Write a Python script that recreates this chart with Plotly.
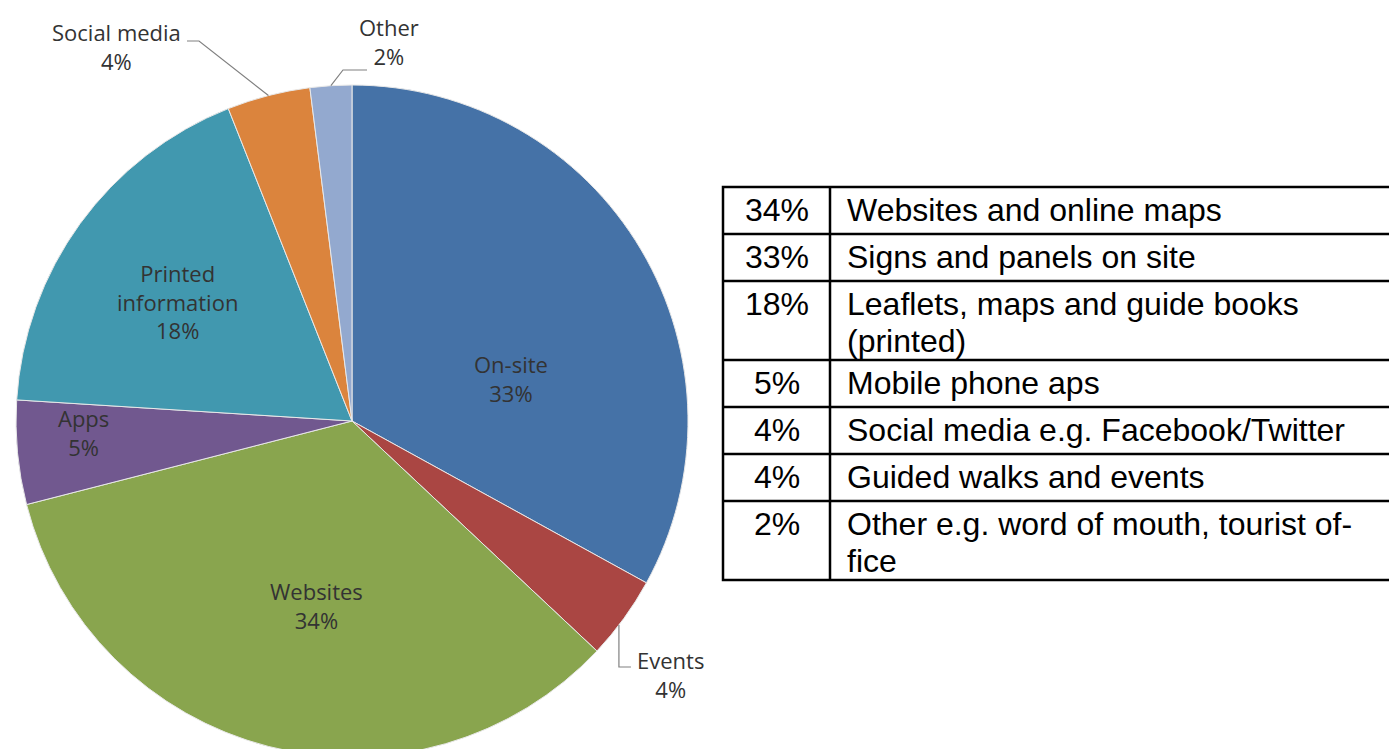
import math
import plotly.graph_objects as go

# ---------------- data ----------------
labels = ["On-site", "Events", "Websites", "Apps", "Printed information", "Social media", "Other"]
label_text = ["On-site", "Events", "Websites", "Apps", "Printed<br>information", "Social media", "Other"]
values = [33, 4, 34, 5, 18, 4, 2]
colors = ["#4572A7", "#AA4643", "#89A54E", "#71588F", "#4198AF", "#DB843D", "#93A9CF"]

table_pct = ["34%", "33%", "18%", "5%", "4%", "4%", "2%"]
table_desc = [
    ["Websites and online maps"],
    ["Signs and panels on site"],
    ["Leaflets, maps and guide books", "(printed)"],
    ["Mobile phone aps"],
    ["Social media e.g. Facebook/Twitter"],
    ["Guided walks and events"],
    ["Other e.g. word of mouth, tourist of-", "fice"],
]

# ---------------- layout geometry (screen pixels) ----------------
W, H = 1389, 757
OFF = 0          # body margin removed by post_script
CX, CY, R = 352, 421, 336


def px(x):
    return (x - OFF) / W


def py(y):
    return 1 - (y - OFF) / H


fig = go.Figure()
fig.add_trace(go.Pie(
    labels=labels, values=values, sort=False, direction="clockwise", rotation=0,
    marker=dict(colors=colors, line=dict(color="#E8E8E8", width=1)),
    textinfo="none", hoverinfo="label+percent", showlegend=False,
    domain=dict(x=[px(CX - R), px(CX + R)], y=[max(0, py(CY + R)), py(CY - R)]),
))

total = sum(values)
cum = 0
mids = []
for v in values:
    mids.append((cum + v / 2) / total * 360)
    cum += v


def polar(angle_deg, rfrac):
    a = math.radians(angle_deg)
    return CX + R * rfrac * math.sin(a), CY - R * rfrac * math.cos(a)


label_font = dict(family="Open Sans, Lato, sans-serif", size=22, color="#333333")
annotations = []
shapes = []

# inside labels: (angle offset, radius fraction)
inside_style = {0: (15.5, 0.49), 2: (-3.5, 0.56), 3: (2.9, 0.80), 4: (-1.6, 0.63)}
for i, (da, rf) in inside_style.items():
    x, y = polar(mids[i] + da, rf)
    annotations.append(dict(x=px(x), y=py(y), xref="paper", yref="paper",
                            text=f"{label_text[i]}<br>{values[i]}%", showarrow=False,
                            font=label_font, align="center", xanchor="center", yanchor="middle"))

# outside labels with leader lines
line_style = dict(color="#808080", width=1.2)
# Social media
ex, ey = polar(mids[5], 1.0)
shapes.append(dict(type="path", xref="paper", yref="paper",
                   path=f"M {px(187)},{py(41)} L {px(199)},{py(41)} L {px(ex)},{py(ey)}",
                   line=line_style))
annotations.append(dict(x=px(116), y=py(47), xref="paper", yref="paper",
                        text=f"{label_text[5]}<br>{values[5]}%", showarrow=False,
                        font=label_font, align="center", xanchor="center", yanchor="middle"))
# Other
ex, ey = polar(mids[6], 1.0)
shapes.append(dict(type="path", xref="paper", yref="paper",
                   path=f"M {px(367)},{py(70)} L {px(343)},{py(70)} L {px(ex)},{py(ey)}",
                   line=line_style))
annotations.append(dict(x=px(389), y=py(41), xref="paper", yref="paper",
                        text=f"{label_text[6]}<br>{values[6]}%", showarrow=False,
                        font=label_font, align="center", xanchor="center", yanchor="middle"))
# Events
ex, ey = polar(mids[1] + 1.4, 1.0)
shapes.append(dict(type="path", xref="paper", yref="paper",
                   path=f"M {px(ex)},{py(ey)} L {px(ex)},{py(667)} L {px(ex + 12)},{py(667)}",
                   line=line_style))
annotations.append(dict(x=px(670), y=py(674), xref="paper", yref="paper",
                        text=f"{label_text[1]}<br>{values[1]}%", showarrow=False,
                        font=label_font, align="center", xanchor="center", yanchor="middle"))

# ---------------- table ----------------
TL, TC, TR, TT = 723, 830, 1400, 187
ROW1, ROW2 = 47, 79
LINE_GAP = 37
tfont = dict(family="Liberation Sans, Arial, sans-serif", size=32, color="#000000")
border = dict(color="#000000", width=2.5)

y0 = TT
row_edges = [y0]
for pct, desc in zip(table_pct, table_desc):
    h = ROW1 if len(desc) == 1 else ROW2
    y1 = y0 + h
    annotations.append(dict(x=px((TL + TC) / 2), y=py(y0 + ROW1 / 2 - 1), xref="paper", yref="paper",
                            text=pct, showarrow=False, font=tfont,
                            xanchor="center", yanchor="middle"))
    for k, line in enumerate(desc):
        ly = y0 + ROW1 / 2 - 1 + k * LINE_GAP
        annotations.append(dict(x=px(TC + 15), y=py(ly), xref="paper", yref="paper",
                                text=line, showarrow=False, font=tfont,
                                xanchor="left", yanchor="middle"))
    y0 = y1
    row_edges.append(y0)

shapes.append(dict(type="rect", xref="paper", yref="paper",
                   x0=px(TL), x1=px(TR), y0=py(row_edges[0]), y1=py(row_edges[-1]), line=border))
for e in row_edges[1:-1]:
    shapes.append(dict(type="line", xref="paper", yref="paper",
                       x0=px(TL), x1=px(TR), y0=py(e), y1=py(e), line=border))
shapes.append(dict(type="line", xref="paper", yref="paper",
                   x0=px(TC), x1=px(TC), y0=py(row_edges[0]), y1=py(row_edges[-1]), line=border))

fig.update_layout(
    width=W, height=H, margin=dict(l=0, r=0, t=0, b=0),
    paper_bgcolor="white", plot_bgcolor="white",
    annotations=annotations, shapes=shapes,
)

fig.write_html(
    "out.html",
    config={"displayModeBar": False},
    post_script="document.body.style.margin='0';document.documentElement.style.overflow='hidden';document.body.style.overflow='hidden';",
)
